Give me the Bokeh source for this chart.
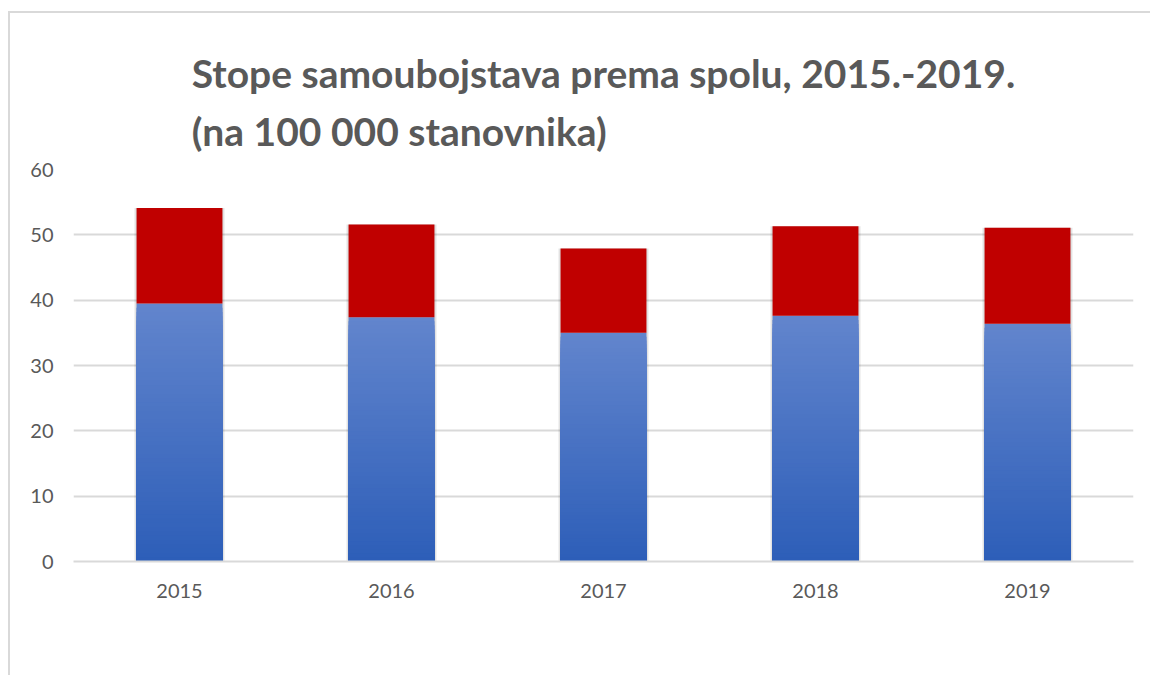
import numpy as np
from bokeh.plotting import figure
from bokeh.models import (FactorRange, Range1d, ColumnDataSource, Legend, LegendItem,
                          FixedTicker)
from bokeh.embed import file_html
from bokeh.resources import INLINE

# ---- data ----
years = ["2015", "2016", "2017", "2018", "2019"]
muskarci = [39.5, 37.4, 35.0, 37.6, 36.4]
zene = [14.6, 14.2, 12.9, 13.7, 14.7]
y_ticks = [0, 10, 20, 30, 40, 50, 60]
title_line1 = "Stope samoubojstava prema spolu, 2015.-2019."
title_line2 = "(na 100 000 stanovnika)"
series_names = ["Muškarci", "Žene"]

GRAY = "#595959"
GRID = "#D9D9D9"
RED = "#C00000"
BLUE_TOP = np.array([98, 133, 205])
BLUE_BOT = np.array([45, 94, 184])
FONT = "Lato"
BAR_W = 0.405

p = figure(x_range=FactorRange(*years), y_range=Range1d(0, 60),
           width=1140, height=662, frame_width=1060, frame_height=392,
           output_backend="svg", toolbar_location=None,
           min_border_left=63, min_border_right=17, min_border_top=156,
           min_border_bottom=114)
p.margin = (11, 0, 0, 8)
p.styles = {"border-left": "2px solid #D9D9D9", "border-top": "2px solid #D9D9D9"}
p.x_range.range_padding = 0
p.outline_line_color = None
p.background_fill_color = "white"
p.border_fill_color = "white"

# blue gradient bars: overlapping bars from tallest (lightest) to shortest (darkest)
N = 60
xs, tops, cols = [], [], []
for j in range(N):
    frac = (N - j) / N
    t = (N - j - 0.5) / N
    c = BLUE_BOT + (BLUE_TOP - BLUE_BOT) * t
    hexc = "#%02x%02x%02x" % tuple(int(round(v)) for v in c)
    for yr, m in zip(years, muskarci):
        xs.append(yr)
        tops.append(m * frac)
        cols.append(hexc)

totals = [m + z for m, z in zip(muskarci, zene)]

# soft shadow
shadow = ColumnDataSource(dict(x=years, top=totals))
for k in range(3):
    p.vbar(x="x", top="top", bottom=0, width=BAR_W + 0.004 * (k + 1) * 2, source=shadow,
           fill_color="black", fill_alpha=0.05, line_color=None)

src_b = ColumnDataSource(dict(x=xs, top=tops, color=cols))
r_b = p.vbar(x="x", bottom=0, top="top", width=BAR_W, source=src_b,
             fill_color="color", line_color=None)

src_r = ColumnDataSource(dict(x=years, bottom=muskarci, top=totals))
r_r = p.vbar(x="x", bottom="bottom", top="top", width=BAR_W, source=src_r,
             fill_color=RED, line_color=None)

# axes
p.yaxis.ticker = FixedTicker(ticks=y_ticks)
p.yaxis.axis_line_color = None
p.yaxis.major_tick_line_color = None
p.yaxis.minor_tick_line_color = None
p.yaxis.major_label_text_font = FONT
p.yaxis.major_label_text_font_size = "20px"
p.yaxis.major_label_text_color = GRAY
p.yaxis.major_label_standoff = 14

p.xaxis.axis_line_color = GRID
p.xaxis.axis_line_width = 2
p.xaxis.major_tick_line_color = None
p.xaxis.minor_tick_line_color = None
p.xaxis.major_label_text_font = FONT
p.xaxis.major_label_text_font_size = "20px"
p.xaxis.major_label_text_color = GRAY
p.xaxis.major_label_standoff = 16

p.xgrid.grid_line_color = None
p.ygrid.grid_line_color = GRID
p.ygrid.grid_line_width = 2

# two-line title
p.title.text = title_line1 + "\n" + title_line2
p.title.align = "center"
p.title.text_font = FONT
p.title.text_font_size = "39px"
p.title.text_font_style = "bold"
p.title.text_color = GRAY
p.title.text_line_height = 1.28
p.title.standoff = 30

# legend
legend = Legend(items=[LegendItem(label=series_names[0], renderers=[r_b], index=N * 5 // 2),
                       LegendItem(label=series_names[1], renderers=[r_r], index=0)],
                orientation="horizontal", location="top_center",
                label_text_font=FONT, label_text_font_size="20px",
                label_text_color=GRAY, glyph_width=13, glyph_height=13,
                spacing=22, label_standoff=6, border_line_color=None,
                background_fill_alpha=0, padding=0, margin=32)
p.add_layout(legend, "below")

open("out.html", "w").write(file_html(p, INLINE))
